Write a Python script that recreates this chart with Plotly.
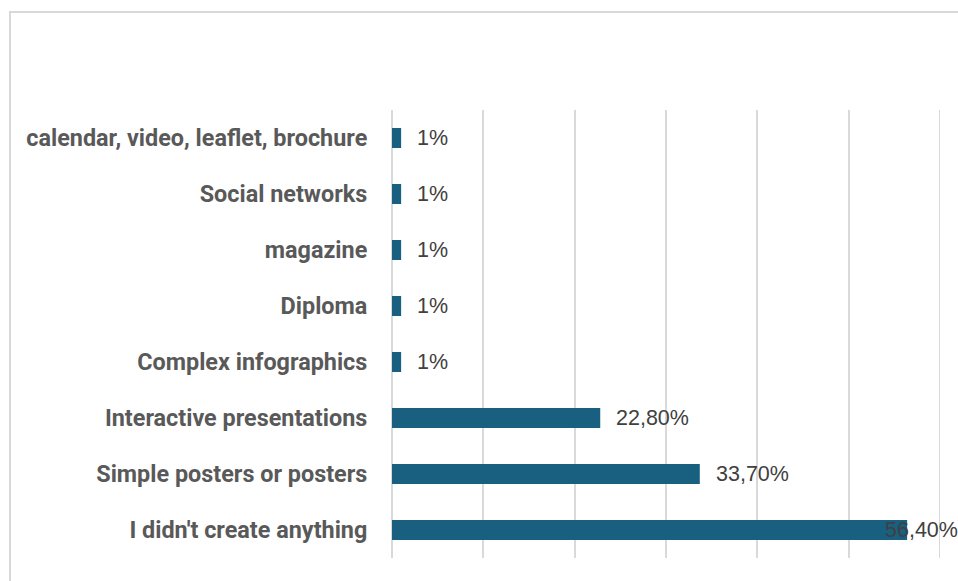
import plotly.graph_objects as go

# Survey answers, listed top to bottom
categories = [
    "calendar, video, leaflet, brochure",
    "Social networks",
    "magazine",
    "Diploma",
    "Complex infographics",
    "Interactive presentations",
    "Simple posters or posters",
    "I didn't create anything",
]
values = [1, 1, 1, 1, 1, 22.8, 33.7, 56.4]
value_labels = ["1%", "1%", "1%", "1%", "1%", "22,80%", "33,70%", "56,40%"]

BAR_COLOR = "#185F80"
GRID_COLOR = "#D9D9D9"
FONT = "Liberation Sans, Arial, sans-serif"
CAT_FONT = "Roboto, Liberation Sans, Arial, sans-serif"

W, H = 958, 581
M_L, M_R, M_T, M_B = 392, 18, 110, 23
X_MAX = 60

fig = go.Figure(
    go.Bar(
        y=categories,
        x=values,
        orientation="h",
        marker=dict(color=BAR_COLOR, line=dict(width=0)),
        hoverinfo="skip",
    )
)

# Value labels to the right of each bar; the widest one is kept inside the canvas
plot_w = W - M_L - M_R
label_w_est = {lab: len(lab) * 12.2 for lab in value_labels}
for cat, val, lab in zip(categories, values, value_labels):
    right_px = val / X_MAX * plot_w + 14 + label_w_est[lab]
    if right_px > plot_w + M_R:
        fig.add_annotation(
            x=1, xref="paper", y=cat, yref="y", text=lab, showarrow=False,
            xanchor="right", xshift=M_R + 2,
            font=dict(family=FONT, size=21.5, color="#404040"),
        )
    else:
        fig.add_annotation(
            x=val, y=cat, text=lab, showarrow=False, xanchor="left", xshift=14,
            font=dict(family=FONT, size=21.5, color="#404040"),
        )

# Light frame around the chart area
fig.add_shape(
    type="rect", xref="paper", yref="paper",
    xsizemode="pixel", ysizemode="pixel", xanchor=0, yanchor=1,
    x0=-(M_L - 10), x1=plot_w + 200, y0=M_T - 12, y1=-(H),
    line=dict(color=GRID_COLOR, width=2), fillcolor="rgba(0,0,0,0)",
    layer="below",
)

# Gridline at the end of the axis range
fig.add_shape(
    type="line", xref="x", yref="paper", x0=X_MAX, x1=X_MAX, y0=0, y1=1,
    line=dict(color=GRID_COLOR, width=2), layer="below",
)

fig.update_layout(
    width=W, height=H,
    margin=dict(l=M_L, r=M_R, t=M_T, b=M_B, pad=0),
    paper_bgcolor="white", plot_bgcolor="white",
    bargap=0.643,
    showlegend=False,
    font=dict(family=FONT),
    xaxis=dict(
        range=[0, X_MAX], tickvals=list(range(0, X_MAX + 1, 10)),
        showticklabels=False,
        showgrid=True, gridcolor=GRID_COLOR, gridwidth=2,
        zeroline=True, zerolinecolor=GRID_COLOR, zerolinewidth=2,
        showline=False, fixedrange=True,
    ),
    yaxis=dict(
        autorange="reversed", showgrid=False, showline=False,
        ticks="outside", ticklen=19, tickcolor="rgba(0,0,0,0)",
        tickfont=dict(family=CAT_FONT, size=23.4, color="#595959", weight="bold"),
        fixedrange=True,
    ),
)

fig.write_html("out.html")
